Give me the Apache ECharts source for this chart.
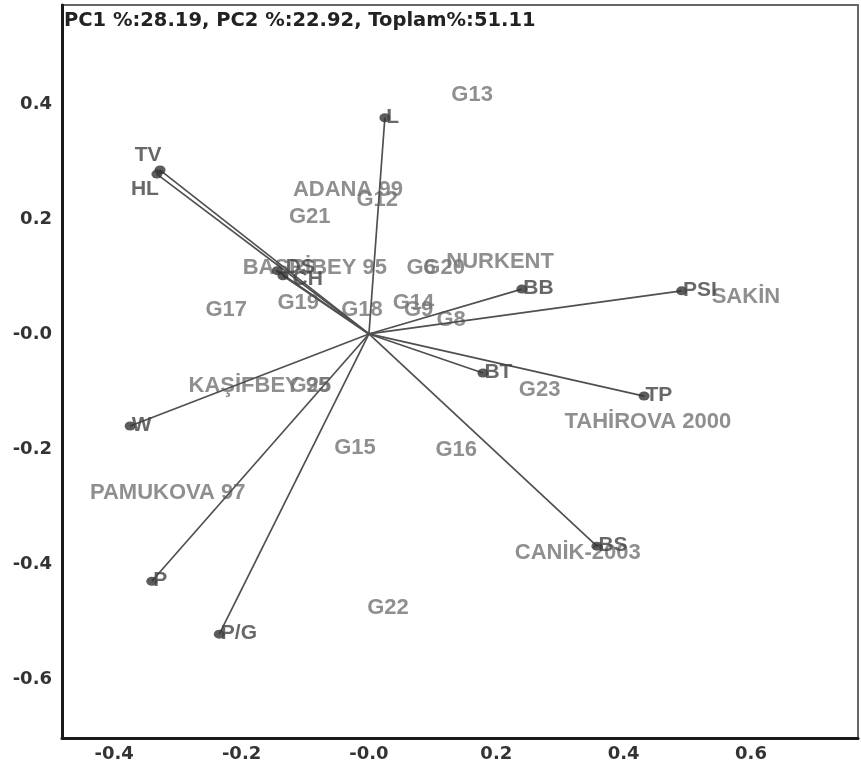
<!DOCTYPE html>
<html>
<head>
<meta charset="utf-8">
<title>PCA biplot</title>
<script src="https://cdn.jsdelivr.net/npm/echarts@6/dist/echarts.min.js"></script>
<style>
  html, body { margin: 0; padding: 0; background: #ffffff; }
  #chart { width: 861px; height: 769px; }
</style>
</head>
<body>
<div id="chart"></div>
<script>
// Axis ticks
const xTickValues = [-0.4, -0.2, 0, 0.2, 0.4, 0.6];
const xTickLabels = ['-0.4', '-0.2', '-0.0', '0.2', '0.4', '0.6'];
const yTickValues = [-0.6, -0.4, -0.2, 0, 0.2, 0.4];
const yTickLabels = ['-0.6', '-0.4', '-0.2', '-0.0', '0.2', '0.4'];

// Trait vectors (loadings on PC1 / PC2)
const traitNames = ['TV', 'HL', 'DS', 'CH', 'L', 'BB', 'PSI', 'BT', 'TP', 'BS', 'W', 'P', 'P/G'];
const traitPC1 = [-0.328, -0.333, -0.144, -0.135, 0.025, 0.240, 0.491, 0.179, 0.432, 0.358, -0.375, -0.341, -0.235];
const traitPC2 = [0.285, 0.278, 0.110, 0.101, 0.376, 0.078, 0.075, -0.068, -0.108, -0.369, -0.160, -0.430, -0.522];

// Genotype scores (PC1 / PC2)
const genotypeNames = ['G13', 'ADANA 99', 'G12', 'G21', 'BASRİBEY 95', 'G6', 'G20', 'NURKENT',
  'G17', 'G19', 'G18', 'G14', 'G9', 'G8', 'SAKİN', 'KAŞİFBEY 95', 'G25', 'G15', 'G16', 'G23',
  'TAHİROVA 2000', 'PAMUKOVA 97', 'CANİK-2003', 'G22'];
const genotypePC1 = [0.162, -0.033, 0.013, -0.093, -0.085, 0.082, 0.118, 0.206,
  -0.224, -0.111, -0.011, 0.070, 0.078, 0.129, 0.592, -0.172, -0.092, -0.022, 0.137, 0.268,
  0.438, -0.316, 0.328, 0.030];
const genotypePC2 = [0.415, 0.251, 0.233, 0.203, 0.115, 0.115, 0.115, 0.125,
  0.042, 0.054, 0.042, 0.054, 0.042, 0.024, 0.064, -0.090, -0.090, -0.198, -0.202, -0.097,
  -0.153, -0.277, -0.381, -0.477];

const title = 'PC1 %:28.19, PC2 %:22.92, Toplam%:51.11';

// Label placement for trait names around their arrow tips
const traitLabelPlacement = {
  'TV': { position: 'top', distance: 2, offset: [-12, 2] },
  'HL': { position: 'bottom', distance: 2, offset: [-12, -2] },
  'DS': { position: 'right', distance: 3, offset: [0, -3] },
  'CH': { position: 'right', distance: 4, offset: [0, 3] }
};

function tickFormatter(values, labels) {
  return function (v) {
    for (let i = 0; i < values.length; i++) {
      if (Math.abs(values[i] - v) < 1e-9) return labels[i];
    }
    return '';
  };
}

const chart = echarts.init(document.getElementById('chart'), null, { renderer: 'canvas' });

const labelFont = 'Liberation Sans, Arial, sans-serif';
const tickFont = 'DejaVu Sans, Verdana, sans-serif';

const genotypeData = genotypeNames.map((n, i) => ({ name: n, value: [genotypePC1[i], genotypePC2[i]] }));

const traitData = traitNames.map((n, i) => {
  const p = traitLabelPlacement[n] || { position: 'right', distance: -4, offset: [0, -1] };
  return {
    name: n,
    value: [traitPC1[i], traitPC2[i]],
    label: { position: p.position, distance: p.distance, offset: p.offset }
  };
});

const arrowData = traitNames.map((n, i) => ({ coords: [[0, 0], [traitPC1[i], traitPC2[i]]] }));

chart.setOption({
  animation: false,
  backgroundColor: '#ffffff',
  title: {
    text: title,
    left: 59,
    top: 6,
    textStyle: { fontFamily: tickFont, fontWeight: 'bold', fontSize: 19.5, color: '#222222' }
  },
  grid: {
    left: 62, right: 3, top: 5, bottom: 31,
    show: true, borderColor: '#666666', borderWidth: 2
  },
  xAxis: {
    type: 'value',
    min: -0.482, max: 0.768,
    splitLine: { show: false },
    axisTick: { show: false },
    axisLine: { show: true, onZero: false, lineStyle: { color: '#1a1a1a', width: 3 } },
    axisLabel: {
      customValues: xTickValues,
      formatter: tickFormatter(xTickValues, xTickLabels),
      fontFamily: tickFont, fontWeight: 'bold', fontSize: 18, color: '#333333', margin: 7
    }
  },
  yAxis: {
    type: 'value',
    min: -0.7026, max: 0.572,
    splitLine: { show: false },
    axisTick: { show: false },
    axisLine: { show: true, onZero: false, lineStyle: { color: '#1a1a1a', width: 3 } },
    axisLabel: {
      customValues: yTickValues,
      formatter: tickFormatter(yTickValues, yTickLabels),
      fontFamily: tickFont, fontWeight: 'bold', fontSize: 18, color: '#333333', margin: 10
    }
  },
  series: [
    {
      name: 'Genotipler',
      type: 'scatter',
      z: 2,
      symbolSize: 0,
      data: genotypeData,
      label: {
        show: true,
        position: 'inside',
        formatter: '{b}',
        fontFamily: labelFont, fontWeight: 'bold', fontSize: 22, color: '#737373'
      },
      silent: true
    },
    {
      name: 'Vektörler',
      type: 'lines',
      coordinateSystem: 'cartesian2d',
      z: 3,
      polyline: false,
      lineStyle: { color: '#505050', width: 1.7, opacity: 1 },
      data: arrowData,
      silent: true
    },
    {
      name: 'Özellikler',
      type: 'scatter',
      z: 4,
      symbol: 'circle',
      symbolSize: [11, 9],
      itemStyle: { color: '#333333' },
      data: traitData,
      label: {
        show: true,
        formatter: '{b}',
        fontFamily: labelFont, fontWeight: 'bold', fontSize: 21, color: '#424242'
      },
      silent: true
    }
  ]
});
</script>
</body>
</html>
